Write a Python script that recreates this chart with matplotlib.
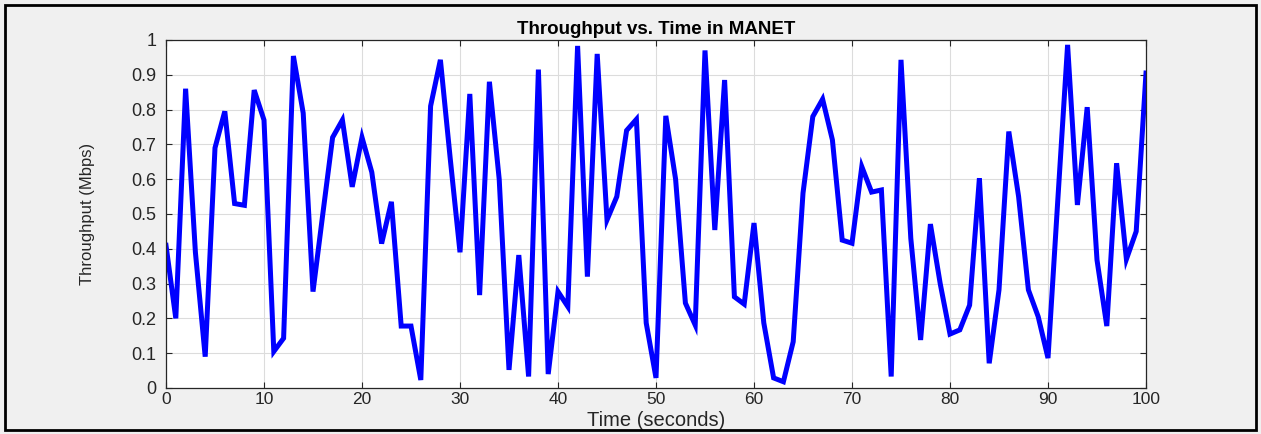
import matplotlib
matplotlib.use("Agg")
import matplotlib.pyplot as plt
from matplotlib.patches import Rectangle

time_s = list(range(0, 101))
throughput = [
    0.41, 0.20, 0.86, 0.39, 0.09, 0.69, 0.795, 0.53, 0.525, 0.856,
    0.77, 0.105, 0.143, 0.954, 0.79, 0.277, 0.50, 0.72, 0.77, 0.578,
    0.72, 0.62, 0.415, 0.535, 0.178, 0.178, 0.023, 0.81, 0.943, 0.66,
    0.39, 0.845, 0.267, 0.88, 0.60, 0.052, 0.382, 0.033, 0.915, 0.04,
    0.277, 0.234, 0.983, 0.32, 0.96, 0.483, 0.55, 0.74, 0.772, 0.187,
    0.029, 0.782, 0.60, 0.244, 0.181, 0.97, 0.454, 0.885, 0.262, 0.241,
    0.474, 0.187, 0.029, 0.018, 0.133, 0.56, 0.78, 0.83, 0.713, 0.425,
    0.416, 0.636, 0.563, 0.569, 0.033, 0.943, 0.43, 0.138, 0.471, 0.30,
    0.155, 0.167, 0.238, 0.603, 0.071, 0.282, 0.737, 0.55, 0.282, 0.205,
    0.086, 0.54, 0.986, 0.526, 0.807, 0.368, 0.178, 0.646, 0.37, 0.45,
    0.905,
]
x_ticks = list(range(0, 101, 10))
y_ticks = [round(v * 0.1, 1) for v in range(0, 11)]
y_tick_labels = ["0", "0.1", "0.2", "0.3", "0.4", "0.5", "0.6", "0.7", "0.8", "0.9", "1"]

plt.rcParams['font.family'] = ['Liberation Sans', 'DejaVu Sans']

fig = plt.figure(figsize=(12.61, 4.34), dpi=100)
fig.patch.set_facecolor('#f0f0f0')
ax = fig.add_axes([166/1261, 1 - 388/434, (1146-166)/1261, (388-40)/434])
ax.set_facecolor('white')
ax.plot(time_s, throughput, color='#0000ff', linewidth=3.6, solid_joinstyle='miter')
ax.set_xlim(0, 100)
ax.set_ylim(0, 1)
ax.set_xticks(x_ticks)
ax.set_xticklabels([str(t) for t in x_ticks])
ax.set_yticks(y_ticks)
ax.set_yticklabels(y_tick_labels)
ax.grid(True, color='#dcdcdc', linewidth=0.8)
ax.set_axisbelow(True)
ax.tick_params(direction='in', length=4, width=0.8, colors='#262626',
               top=True, right=True)
ax.tick_params(axis='x', labelsize=12.5, pad=3)
ax.tick_params(axis='y', labelsize=13, pad=7)
for s in ax.spines.values():
    s.set_color('#262626')
    s.set_linewidth(0.9)
ax.set_title('Throughput vs. Time in MANET', fontsize=13.5, fontweight='bold', pad=4)
ax.set_xlabel('Time (seconds)', fontsize=14.5, labelpad=3, color='#262626')
ax.set_ylabel('Throughput (Mbps)', fontsize=12, color='#262626')
ax.yaxis.set_label_coords(-0.072, 0.5)

fig.patches.append(Rectangle((5/1261, 4/434), 1251/1261, 425/434, transform=fig.transFigure,
                             fill=False, edgecolor='black', linewidth=2))
fig.savefig('out.png', dpi=100, facecolor=fig.get_facecolor())
